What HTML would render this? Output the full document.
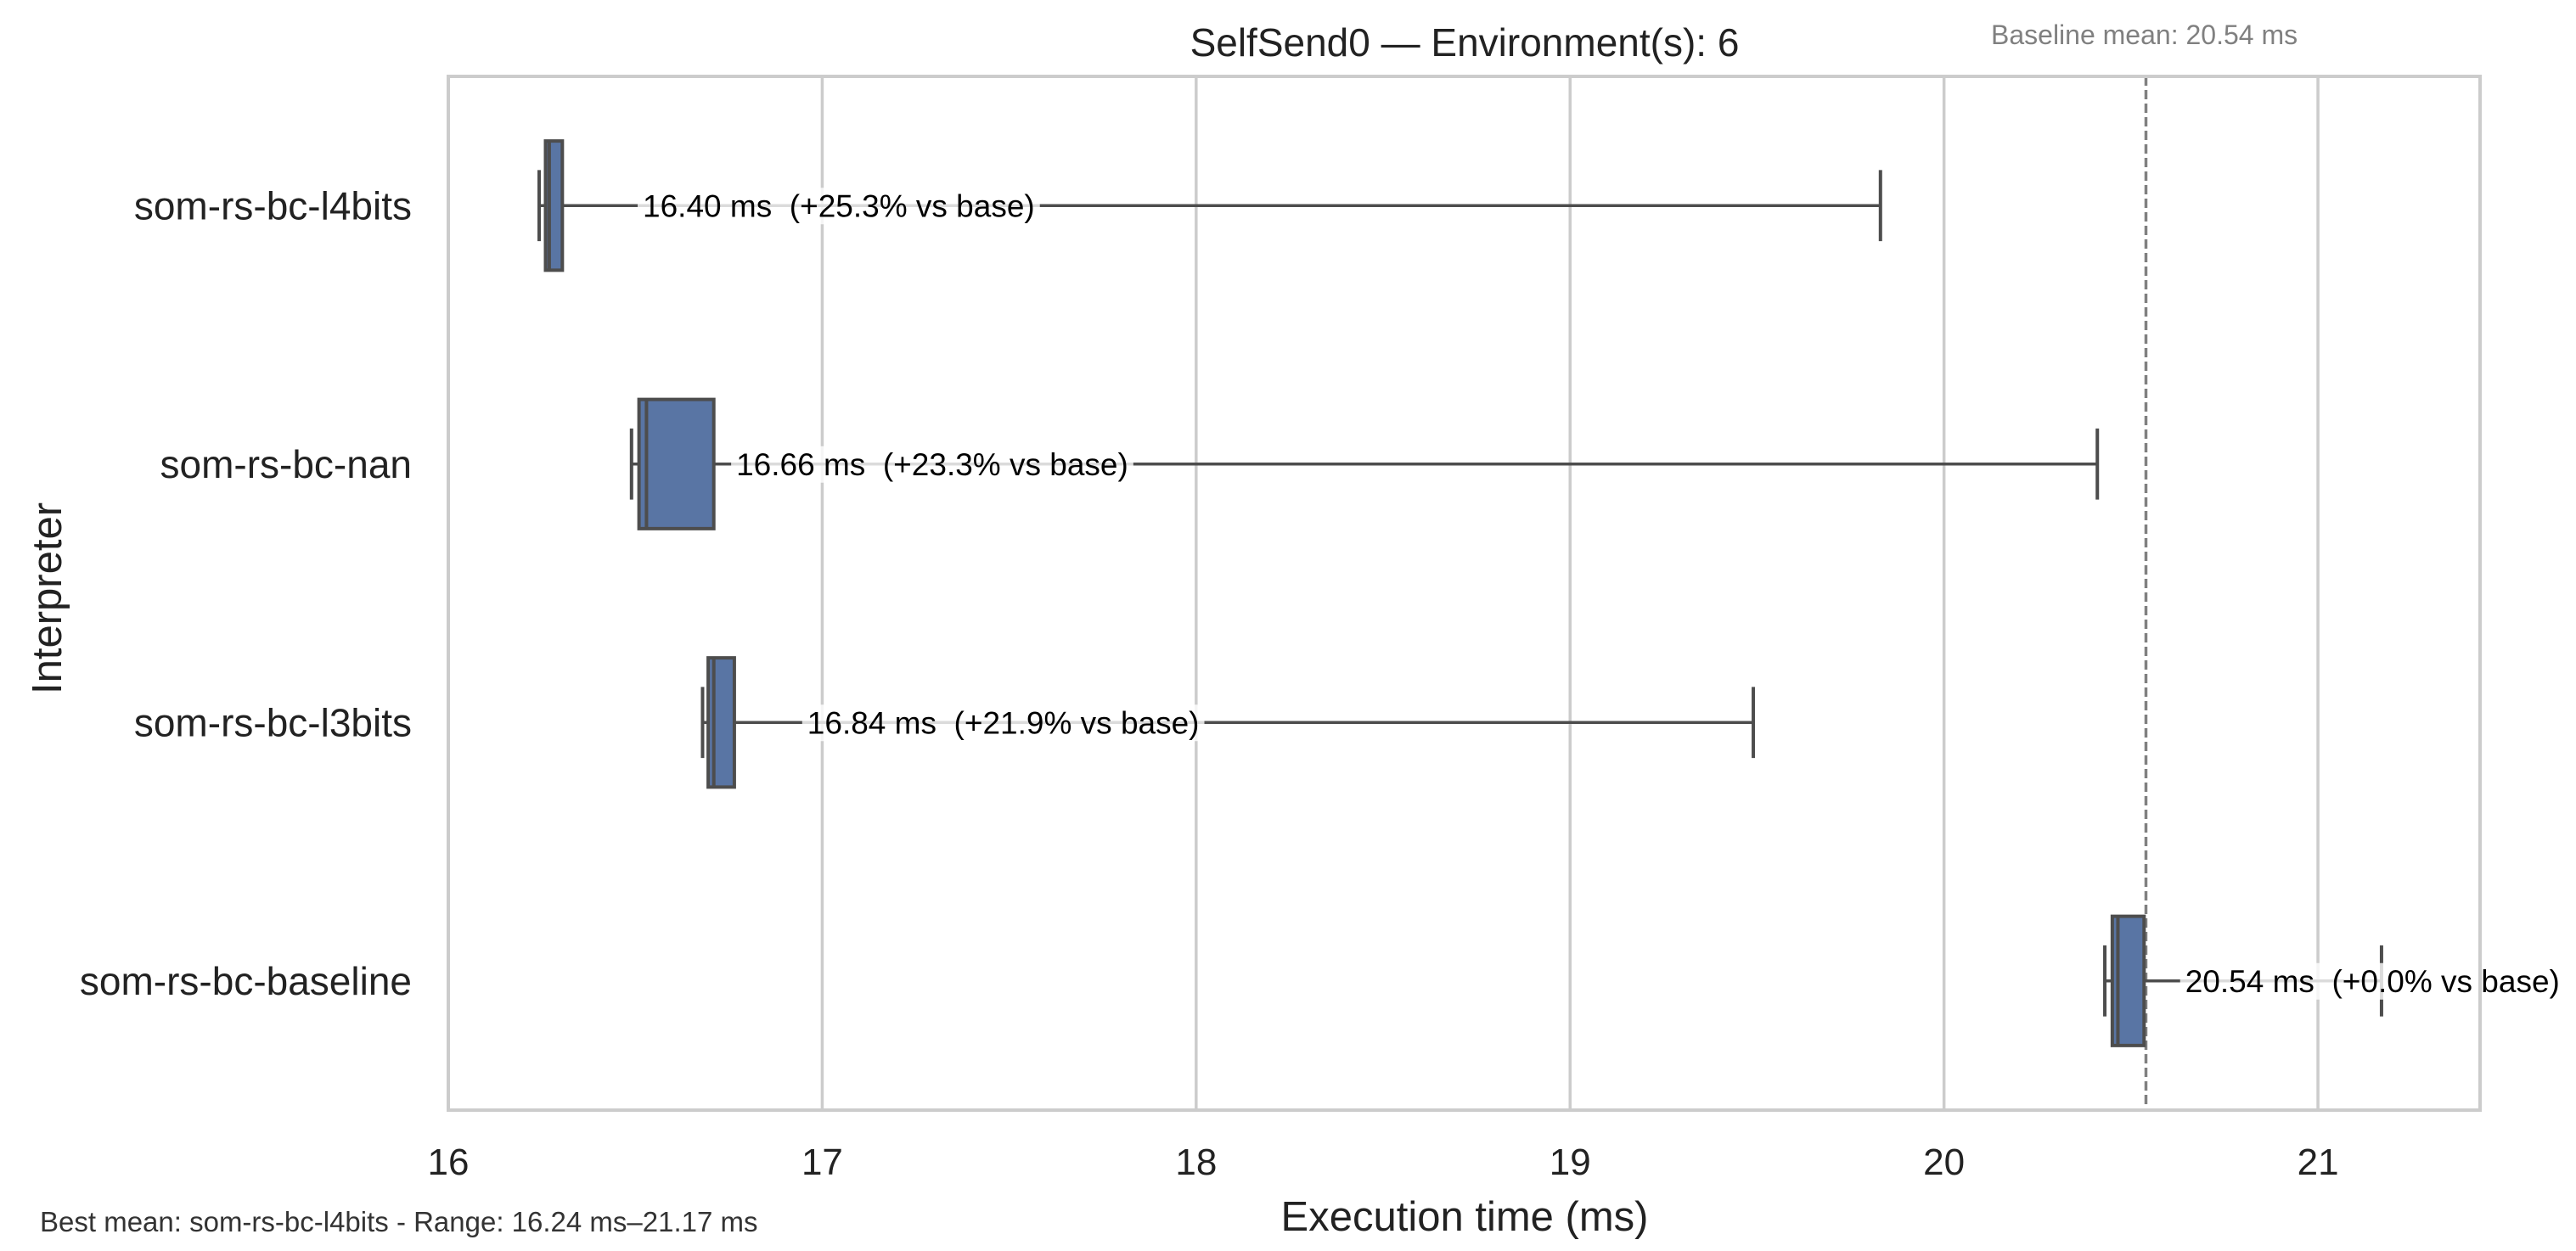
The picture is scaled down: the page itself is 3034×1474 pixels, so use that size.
<!DOCTYPE html>
<html><head><meta charset="utf-8">
<style>
html,body{margin:0;padding:0;background:#fff;}
svg{display:block;font-family:"Liberation Sans",Arial,sans-serif;}
</style></head>
<body>
<svg id="chart" width="3034" height="1474" viewBox="0 0 3034 1474" xmlns="http://www.w3.org/2000/svg">
<rect width="3034" height="1474" fill="#fff"/>
<g id="grid"></g>
<g id="marks"></g>
<g id="labels"></g>
<rect x="528" y="90" width="2393" height="1218" fill="none" stroke="#cccccc" stroke-width="4"/>
<text x="1725" y="66" font-size="46" text-anchor="middle" fill="#222">SelfSend0 — Environment(s): 6</text>
<text x="2345" y="52" font-size="32" fill="#808080">Baseline mean: 20.54 ms</text>
<text x="1725" y="1450" font-size="49" text-anchor="middle" fill="#222">Execution time (ms)</text>
<text transform="translate(72,705) rotate(-90)" font-size="49" text-anchor="middle" fill="#222">Interpreter</text>
<text x="47" y="1451" font-size="33" fill="#333">Best mean: som-rs-bc-l4bits - Range: 16.24 ms–21.17 ms</text>
</svg>
<script>
const categories = ["som-rs-bc-l4bits","som-rs-bc-nan","som-rs-bc-l3bits","som-rs-bc-baseline"];
const whiskerLow = [16.243, 16.49, 16.68, 20.43];
const q1 = [16.26, 16.51, 16.695, 20.45];
const median = [16.27, 16.53, 16.71, 20.465];
const q3 = [16.305, 16.71, 16.765, 20.535];
const whiskerHigh = [19.83, 20.41, 19.49, 21.17];
const meanLabels = ["16.40 ms\u00a0\u00a0(+25.3% vs base)","16.66 ms\u00a0\u00a0(+23.3% vs base)","16.84 ms\u00a0\u00a0(+21.9% vs base)","20.54 ms\u00a0\u00a0(+0.0% vs base)"];
const labelX = [16.52, 16.77, 16.96, 20.645];
const xTicks = [16,17,18,19,20,21];
const baselineMean = 20.54;
const xMin = 16, xMax = 21.4335;

const L=528,R=2921,T=90,B=1308;
const NS="http://www.w3.org/2000/svg";
function x(v){return L+(v-xMin)/(xMax-xMin)*(R-L);}
const band=(B-T)/categories.length;
function yc(i){return T+band*(i+0.5);}
function el(tag,attrs,parent,text){const e=document.createElementNS(NS,tag);for(const k in attrs)e.setAttribute(k,attrs[k]);if(text!==undefined)e.textContent=text;parent.appendChild(e);return e;}
const grid=document.getElementById('grid'),marks=document.getElementById('marks'),labels=document.getElementById('labels'),svg=document.getElementById('chart');

xTicks.forEach(t=>{
  const g=el('line',{x1:x(t),x2:x(t),y1:T,y2:B,stroke:'#cccccc','stroke-width':3.5},grid);
  
  
  const tl=el('text',{x:x(t),y:1384,'font-size':44,'text-anchor':'middle',fill:'#222'},svg,String(t));
  
  
});
const bl=el('line',{x1:x(baselineMean),x2:x(baselineMean),y1:T,y2:B,stroke:'#808080','stroke-width':3.5,'stroke-dasharray':'11,5'},grid);



const boxH=band*0.5, capH=boxH*0.55, ec='#4d4d4d';
categories.forEach((c,i)=>{
  const y=yc(i);
  const yl=el('text',{x:485,y:y+16,'font-size':46,'text-anchor':'end',fill:'#222'},svg,c);
  
  
  const w1=el('line',{x1:x(whiskerLow[i]),x2:x(q1[i]),y1:y,y2:y,stroke:ec,'stroke-width':3.5},marks);
  
  
  const w2=el('line',{x1:x(q3[i]),x2:x(whiskerHigh[i]),y1:y,y2:y,stroke:ec,'stroke-width':3.5},marks);
  
  
  const c1=el('line',{x1:x(whiskerLow[i]),x2:x(whiskerLow[i]),y1:y-capH/2,y2:y+capH/2,stroke:ec,'stroke-width':4},marks);
  
  
  const c2=el('line',{x1:x(whiskerHigh[i]),x2:x(whiskerHigh[i]),y1:y-capH/2,y2:y+capH/2,stroke:ec,'stroke-width':4},marks);
  
  
  const bx=el('rect',{x:x(q1[i]),y:y-boxH/2,width:Math.max(1,x(q3[i])-x(q1[i])),height:boxH,fill:'#5975a4',stroke:ec,'stroke-width':4},marks);
  
  
  const md=el('line',{x1:x(median[i]),x2:x(median[i]),y1:y-boxH/2,y2:y+boxH/2,stroke:ec,'stroke-width':4},marks);
  
  
  const tx=el('text',{x:x(labelX[i]),y:y+13,'font-size':37,fill:'#000'},labels,meanLabels[i]);
  
  
  const bb=tx.getBBox();
  const bg=el('rect',{x:bb.x-6,y:bb.y-1,width:bb.width+12,height:bb.height+2,fill:'#fff','fill-opacity':0.8},labels);
  
  
  labels.insertBefore(bg,tx);
});
</script>
</body></html>
